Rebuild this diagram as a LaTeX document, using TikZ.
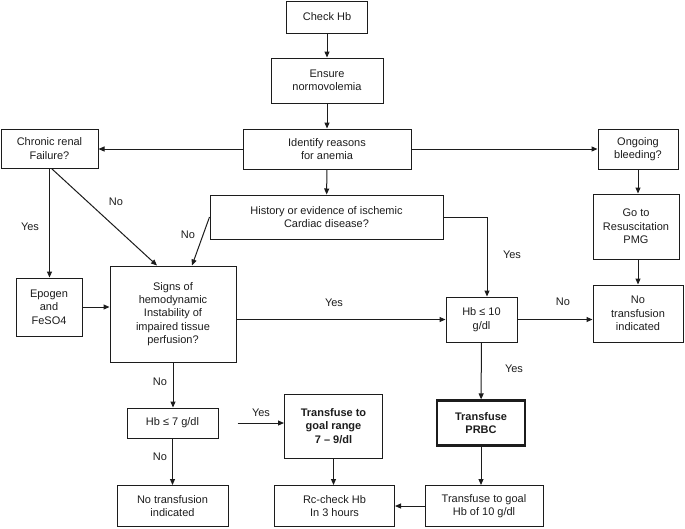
\documentclass[tikz,border=0pt]{standalone}
\usepackage{fontspec}
\setmainfont{Liberation Sans}
\usetikzlibrary{arrows.meta, calc}
\definecolor{inkdark}{HTML}{1C1C1C}

\tikzset{
  flowbox/.style={draw=inkdark, line width=1pt, align=center, inner sep=0pt, text=inkdark, font=\fontsize{11}{13.3}\selectfont},
  boldbox/.style={flowbox, font=\fontsize{11}{13.3}\selectfont\bfseries},
  flowarrow/.style={draw=inkdark, line width=1pt, -{Triangle[length=6pt, width=5pt]}},
  branchlabel/.style={text=inkdark, inner sep=0pt, font=\fontsize{11}{13.3}\selectfont}
}

\begin{document}
\begin{tikzpicture}[x=1pt, y=-1pt]
  % Page frame
  \useasboundingbox (0,0) rectangle (685,528);

  % Top chain
  \node[flowbox, minimum width=81pt, minimum height=32pt] (check) at (327,17) {Check Hb};
  \node[flowbox, minimum width=112pt, minimum height=45pt] (ensure) at (327,80.5) {Ensure\\normovolemia};
  \node[flowbox, minimum width=168pt, minimum height=40pt] (identify) at (327,149) {Identify reasons\\for anemia};
  \node[flowbox, minimum width=97pt, minimum height=39pt] (chronic) at (49.5,148.5) {Chronic renal\\Failure?};
  \node[flowbox, minimum width=80pt, minimum height=40pt] (ongoing) at (638,149) {Ongoing\\bleeding?};

  % Middle row
  \node[flowbox, minimum width=233pt, minimum height=44pt] (history) at (326.5,217) {History or evidence of ischemic\\Cardiac disease?};
  \node[flowbox, minimum width=86pt, minimum height=65pt] (resus) at (636,226.5) {Go to\\Resuscitation\\PMG};
  \node[flowbox, minimum width=66pt, minimum height=58pt] (epogen) at (49,307) {Epogen\\and\\FeSO4};
  \node[flowbox, minimum width=126pt, minimum height=96pt] (signs) at (173,314) {Signs of\\hemodynamic\\Instability of\\impaired tissue\\perfusion?};
  \node[flowbox, minimum width=71pt, minimum height=45pt] (hbten) at (481.5,319.5) {Hb ≤ 10\\g/dl};
  \node[flowbox, minimum width=90pt, minimum height=57pt] (notransR) at (638,313.5) {No\\transfusion\\indicated};

  % Lower rows
  \node[flowbox, minimum width=91pt, minimum height=30pt] (hbseven) at (172.5,423) {Hb ≤ 7 g/dl};
  \node[boldbox, minimum width=98pt, minimum height=64pt] (range) at (333.5,426) {Transfuse to\\goal range\\7 – 9/dl};
  \node[boldbox, line width=2.2pt, minimum width=88pt, minimum height=45pt] (prbc) at (481,423) {Transfuse\\PRBC};
  \node[flowbox, minimum width=111pt, minimum height=41pt] (notransL) at (172.5,506) {No transfusion\\indicated};
  \node[flowbox, minimum width=120pt, minimum height=41pt] (recheck) at (334.5,506) {Rc-check Hb\\In 3 hours};
  \node[flowbox, minimum width=118pt, minimum height=41pt] (transgoal) at (484,506) {Transfuse to goal\\Hb of 10 g/dl};

  % Connectors
  \draw[flowarrow] (check) -- (ensure);
  \draw[flowarrow] (ensure) -- (identify);
  \draw[flowarrow] (identify.west) -- (identify.west -| chronic.east);
  \draw[flowarrow] (identify.east) -- (identify.east -| ongoing.west);
  \draw[flowarrow] (identify) -- (history);
  \draw[flowarrow] (ongoing.south) -- (ongoing.south |- resus.north);
  \draw[flowarrow] (ongoing.south |- resus.south) -- (ongoing.south |- notransR.north);
  \draw[flowarrow] (chronic.south) -- (chronic.south |- epogen.north);
  \draw[flowarrow] ([xshift=2pt]chronic.south) -- ([xshift=-16pt]signs.north);
  \draw[flowarrow] (history.west) -- ([xshift=19pt]signs.north);
  \draw[flowarrow] (epogen.east) -- (epogen.east -| signs.west);
  \draw[flowarrow] (signs.east |- hbten.west) -- (hbten.west);
  \draw[flowarrow] (history.east) -| ([xshift=5.5pt]hbten.north);
  \draw[flowarrow] (hbten.east) -- (hbten.east -| notransR.west);
  \draw[flowarrow] (hbten) -- (prbc);
  \draw[flowarrow] (signs.south) -- (signs.south |- hbseven.north);
  \draw[flowarrow, shorten <=19pt] (hbseven.east) -- (hbseven.east -| range.west);
  \draw[flowarrow] (hbseven) -- (notransL);
  \draw[flowarrow] (range) -- (range |- recheck.north);
  \draw[flowarrow] (prbc.south) -- (prbc.south |- transgoal.north);
  \draw[flowarrow] (transgoal.west) -- (transgoal.west -| recheck.east);

  % Branch labels
  \node[branchlabel] (yesCE) at (30,227) {Yes};
  \node[branchlabel] (noCS) at (116,202) {No};
  \node[branchlabel] (noHS) at (188,235) {No};
  \node[branchlabel] (yesHH) at (512,255) {Yes};
  \node[branchlabel] (yesSH) at (334,303) {Yes};
  \node[branchlabel] (noHN) at (563,302) {No};
  \node[branchlabel] (yesHP) at (514,369) {Yes};
  \node[branchlabel] (noSH) at (160,382) {No};
  \node[branchlabel] (yesHR) at (261,413) {Yes};
  \node[branchlabel] (noHN2) at (160,457) {No};
\end{tikzpicture}
\end{document}
